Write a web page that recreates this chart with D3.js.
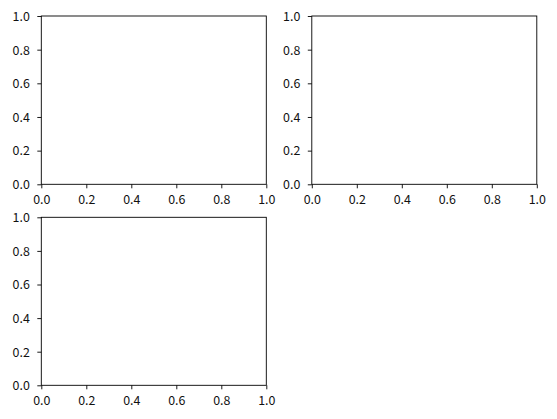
<!DOCTYPE html>
<html>
<head>
<meta charset="utf-8">
<script src="https://cdn.jsdelivr.net/npm/d3@7"></script>
<style>
  body { margin: 0; background: #fff; }
  svg text { font-family: "Noto Sans CJK KR", "Noto Sans", sans-serif; font-size: 12.4px; fill: #111; }
</style>
</head>
<body>
<svg id="view" width="557" height="419"></svg>
<script>
// empty subplots, all share the default 0..1 range
var xDomain = [0, 1];
var yDomain = [0, 1];
var tickValues = [0, 0.2, 0.4, 0.6, 0.8, 1.0];

// panel boxes (left, top, right, bottom) in px
var panels = [
	[41.3, 16, 266.3, 184.3],
	[311.8, 16, 536.8, 184.3],
	[41.3, 217.3, 266.3, 385.3]
];

var view = d3.select('svg#view');

panels.forEach(function(p) {
	var x = d3.scaleLinear().domain(xDomain).range([p[0], p[2]]);
	var y = d3.scaleLinear().domain(yDomain).range([p[3], p[1]]);

	var g = view.append('g');

	// bottom axis
	var xa = g.append('g')
		.attr('transform', 'translate(0,' + p[3] + ')')
		.call(d3.axisBottom(x).tickValues(tickValues).tickFormat(d3.format('.1f')).tickSizeInner(4).tickSizeOuter(0).tickPadding(7));
	// left axis
	var ya = g.append('g')
		.attr('transform', 'translate(' + p[0] + ',0)')
		.call(d3.axisLeft(y).tickValues(tickValues).tickFormat(d3.format('.1f')).tickSizeInner(4).tickSizeOuter(0).tickPadding(7.5));

	[xa, ya].forEach(function(a) {
		a.attr('font-family', null).attr('font-size', null);
		a.select('.domain').remove();
		a.selectAll('line').attr('stroke', '#000').attr('stroke-width', 0.9);
	});
	ya.selectAll('text').attr('dy', '0.35em');

	// spines
	g.append('rect')
		.attr('x', p[0]).attr('y', p[1])
		.attr('width', p[2] - p[0]).attr('height', p[3] - p[1])
		.attr('fill', 'none').attr('stroke', '#000').attr('stroke-width', 0.9);
});
</script>
</body>
</html>
